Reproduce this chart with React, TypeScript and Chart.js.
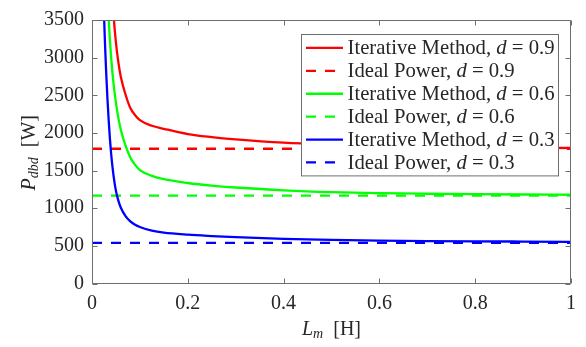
import { useEffect, useRef } from 'react';
import { Chart, registerables } from 'chart.js';
Chart.register(...registerables);

// Inductance L_m [H] sample positions
const Lm = [0.02, 0.025, 0.03, 0.035, 0.04, 0.045, 0.05, 0.055, 0.06, 0.07, 0.08, 0.09, 0.1, 0.125, 0.15, 0.2, 0.25, 0.3, 0.4, 0.5, 0.6, 0.7, 0.8, 0.9, 1.0];
// Iterative method power [W]
const iterD09 = [null, null, null, 5600, 4300, 3580, 3200, 2940, 2750, 2510, 2330, 2235, 2170, 2095, 2055, 1985, 1945, 1915, 1870, 1845, 1828, 1817, 1809, 1803, 1800];
const iterD06 = [7000, 5500, 4300, 3500, 3000, 2650, 2400, 2200, 2045, 1830, 1675, 1575, 1505, 1430, 1385, 1335, 1300, 1275, 1237, 1213, 1200, 1192, 1186, 1182, 1179];
const iterD03 = [5000, 3600, 2750, 2150, 1720, 1430, 1230, 1100, 1010, 895, 825, 780, 750, 702, 675, 648, 630, 615, 593, 579, 570, 564, 560, 557, 554];
// Ideal power [W]
const idealD09 = 1790;
const idealD06 = 1167;
const idealD03 = 540;

const xRange = [0, 1];
const yRange = [0, 3500];
const xStep = 0.2;
const yStep = 500;

const seriesNames = ['Iterative Method', 'Ideal Power', 'Iterative Method', 'Ideal Power', 'Iterative Method', 'Ideal Power'];
const seriesD = ['0.9', '0.9', '0.6', '0.6', '0.3', '0.3'];
const seriesColors = ['#ff0000', '#ff0000', '#00ff00', '#00ff00', '#0000ff', '#0000ff'];
const seriesDashed = [false, true, false, true, false, true];

const FONT = "'Liberation Serif', 'Times New Roman', serif";
const AXIS_COLOR = '#6e6e6e';
const TEXT_COLOR = '#262626';
const DASH = [10, 9];

const toXY = (ys: (number | null)[]) =>
  Lm.map((x, i) => ({ x, y: ys[i] })).filter((p) => p.y !== null) as { x: number; y: number }[];
const flat = (v: number) => [{ x: xRange[0], y: v }, { x: xRange[1], y: v }];

const frameAndLabels = {
  id: 'frameAndLabels',
  afterDatasetsDraw(chart: any) {
    const { ctx, chartArea: a, scales } = chart;
    ctx.save();
    ctx.strokeStyle = AXIS_COLOR;
    ctx.lineWidth = 1;
    const x0 = Math.round(a.left) + 0.5;
    const x1 = Math.round(a.right) - 0.5;
    const y0 = Math.round(a.top) + 0.5;
    const y1 = Math.round(a.bottom) - 0.5;
    ctx.beginPath();
    ctx.rect(x0, y0, x1 - x0, y1 - y0);
    const tl = 5;
    scales.x.ticks.forEach((t: any) => {
      const px = Math.round(scales.x.getPixelForValue(t.value)) + 0.5;
      ctx.moveTo(px, y1); ctx.lineTo(px, y1 - tl);
      ctx.moveTo(px, y0); ctx.lineTo(px, y0 + tl);
    });
    scales.y.ticks.forEach((t: any) => {
      const py = Math.round(scales.y.getPixelForValue(t.value)) + 0.5;
      ctx.moveTo(x0, py); ctx.lineTo(x0 + tl, py);
      ctx.moveTo(x1, py); ctx.lineTo(x1 - tl, py);
    });
    ctx.stroke();
    ctx.restore();
  },
  afterDraw(chart: any) {
    const { ctx, chartArea: a } = chart;
    ctx.save();
    ctx.fillStyle = TEXT_COLOR;
    ctx.textBaseline = 'alphabetic';
    ctx.textAlign = 'left';
    const reg = `20px ${FONT}`;
    const ital = `italic 20px ${FONT}`;
    const sub = `italic 14px ${FONT}`;
    const lreg = `20.7px ${FONT}`;
    const lital = `italic 20.7px ${FONT}`;

    const drawRuns = (runs: { t: string; f: string; dy: number }[], cx: number, by: number) => {
      let w = 0;
      runs.forEach((r) => { ctx.font = r.f; w += ctx.measureText(r.t).width; });
      let x = cx - w / 2;
      runs.forEach((r) => { ctx.font = r.f; ctx.fillText(r.t, x, by + r.dy); x += ctx.measureText(r.t).width; });
    };
    // x title: L_m [H]
    drawRuns([
      { t: 'L', f: ital, dy: 0 },
      { t: 'm', f: sub, dy: 3 },
      { t: '  [H]', f: reg, dy: 0 },
    ], (a.left + a.right) / 2, 335);

    // y title: P_dbd [W]
    ctx.save();
    ctx.translate(35, (a.top + a.bottom) / 2 + 1);
    ctx.rotate(-Math.PI / 2);
    drawRuns([
      { t: 'P', f: ital, dy: 0 },
      { t: 'dbd', f: sub, dy: 3 },
      { t: '  [W]', f: reg, dy: 0 },
    ], 0, 0);
    ctx.restore();

    // legend
    const rowH = 22.9;
    const sampleW = 37;
    const padL = 4.5;
    const gap = 4.5;
    const padR = 4;
    const rows = seriesNames.map((n, i) => [
      { t: `${n}, `, f: lreg },
      { t: 'd', f: lital },
      { t: ` = ${seriesD[i]}`, f: lreg },
    ]);
    let maxW = 0;
    rows.forEach((r) => {
      let w = 0;
      r.forEach((s) => { ctx.font = s.f; w += ctx.measureText(s.t).width; });
      maxW = Math.max(maxW, w);
    });
    const boxW = padL + sampleW + gap + maxW + padR;
    const boxH = rowH * rows.length + 4;
    const bx = Math.round(a.right - 12.7 - boxW) + 0.5;
    const by = Math.round(a.top + 13.7) + 0.5;
    ctx.fillStyle = '#ffffff';
    ctx.fillRect(bx, by, boxW, boxH);
    ctx.strokeStyle = AXIS_COLOR;
    ctx.lineWidth = 1;
    ctx.strokeRect(bx, by, boxW, boxH);
    rows.forEach((r, i) => {
      const cy = by + 2 + rowH * (i + 0.5);
      ctx.strokeStyle = seriesColors[i];
      ctx.lineWidth = 2.3;
      ctx.setLineDash(seriesDashed[i] ? DASH : []);
      ctx.beginPath();
      ctx.moveTo(bx + padL, cy);
      ctx.lineTo(bx + padL + sampleW, cy);
      ctx.stroke();
      ctx.setLineDash([]);
      ctx.fillStyle = TEXT_COLOR;
      let x = bx + padL + sampleW + gap;
      r.forEach((s) => {
        ctx.font = s.f;
        ctx.fillText(s.t, x, cy + 6.5);
        x += ctx.measureText(s.t).width;
      });
    });
    ctx.restore();
  },
};

export default function App() {
  const ref = useRef<HTMLCanvasElement>(null);
  useEffect(() => {
    if (!ref.current) return;
    const series = [toXY(iterD09), flat(idealD09), toXY(iterD06), flat(idealD06), toXY(iterD03), flat(idealD03)];
    const chart = new Chart(ref.current, {
      type: 'line',
      data: {
        datasets: series.map((d, i) => ({
          label: `${seriesNames[i]}, d = ${seriesD[i]}`,
          data: d,
          borderColor: seriesColors[i],
          backgroundColor: seriesColors[i],
          borderWidth: 2.3,
          borderDash: seriesDashed[i] ? DASH : [],
          pointRadius: 0,
          cubicInterpolationMode: 'monotone' as const,
          fill: false,
          clip: 0,
          order: series.length - i,
        })),
      },
      options: {
        responsive: false,
        animation: false,
        events: [],
        layout: { padding: { top: 9, right: 15, left: 0, bottom: 0 } },
        plugins: { legend: { display: false }, tooltip: { enabled: false } },
        scales: {
          x: {
            type: 'linear',
            min: xRange[0],
            max: xRange[1],
            grid: { display: false, drawTicks: false, tickLength: 0 },
            border: { display: false },
            ticks: {
              stepSize: xStep,
              padding: 8,
              maxRotation: 0,
              color: TEXT_COLOR,
              font: { family: FONT, size: 20 },
              callback: (v: any) => String(Math.round(Number(v) * 10) / 10),
            },
            afterFit: (s: any) => { s.height = 63.5; },
          },
          y: {
            type: 'linear',
            min: yRange[0],
            max: yRange[1],
            grid: { display: false, drawTicks: false, tickLength: 0 },
            border: { display: false },
            ticks: {
              stepSize: yStep,
              padding: 8,
              color: TEXT_COLOR,
              font: { family: FONT, size: 20 },
              callback: (v: any) => String(Math.round(Number(v))),
            },
            afterFit: (s: any) => { s.width = 92; },
          },
        },
      },
      plugins: [frameAndLabels],
    });
    return () => chart.destroy();
  }, []);
  return (
    <div style={{ position: 'absolute', left: 0, top: 0, width: 586, height: 347, background: '#fff' }}>
      <canvas ref={ref} width={586} height={347} style={{ display: 'block' }} />
    </div>
  );
}
